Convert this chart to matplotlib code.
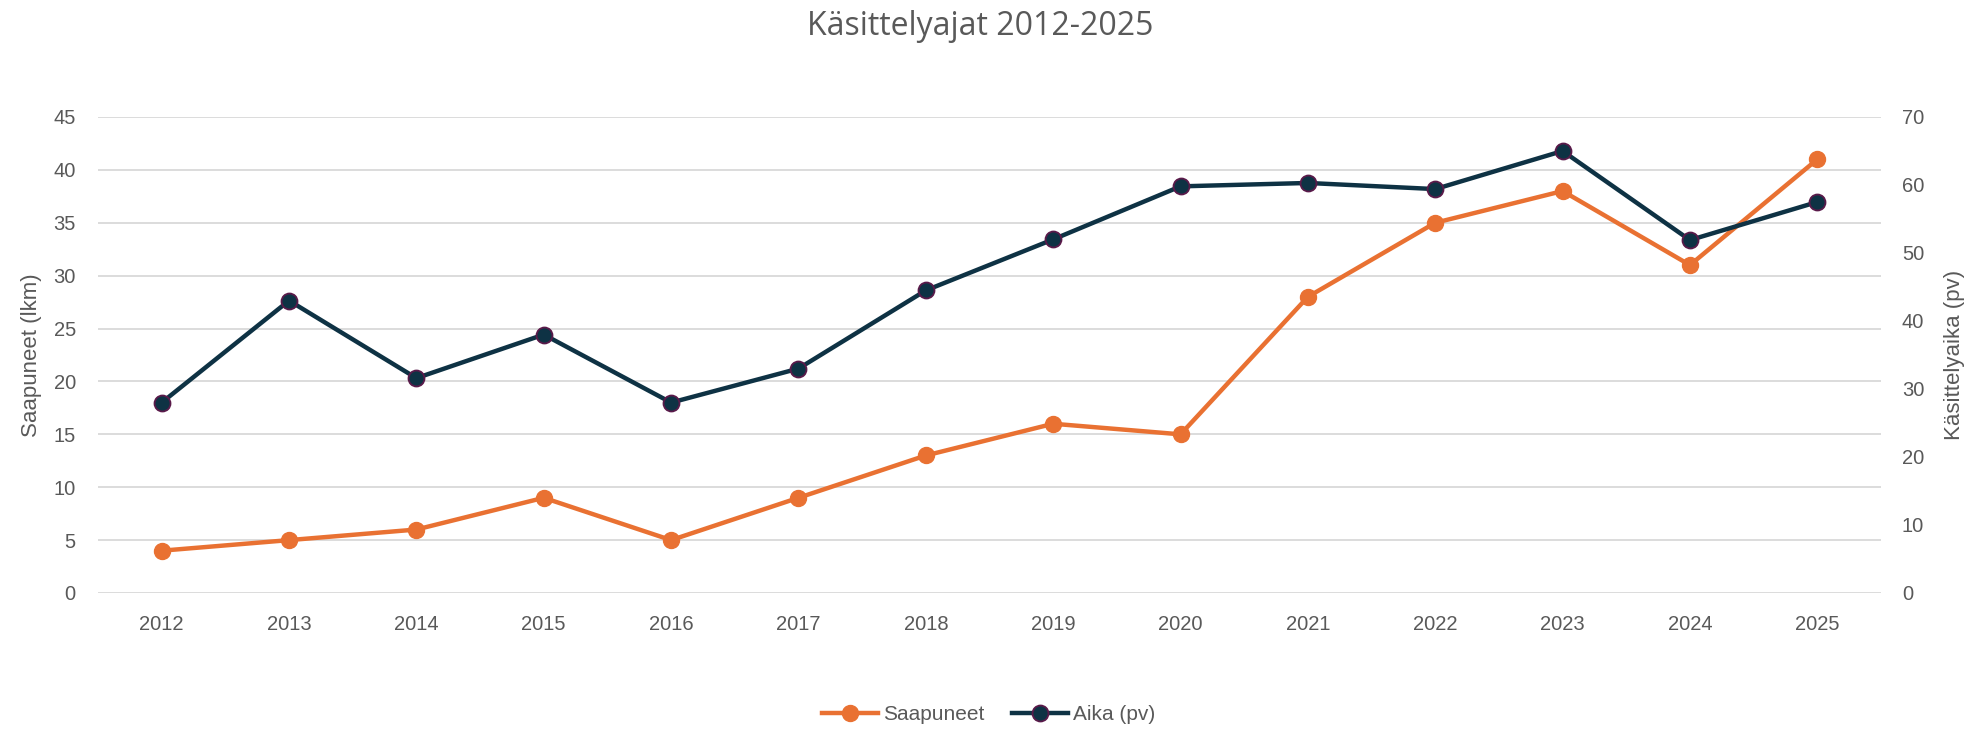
import numpy as np
import matplotlib.pyplot as plt

years = ['2012', '2013', '2014', '2015', '2016', '2017', '2018',
         '2019', '2020', '2021', '2022', '2023', '2024', '2025']
saapuneet = [4, 5, 6, 9, 5, 9, 13, 16, 15, 28, 35, 38, 31, 41]
aika_pv = [28, 43, 31.6, 38, 28, 33, 44.5, 52, 59.8, 60.3, 59.4, 65, 51.9, 57.5]

orange = '#E97132'
navy = '#0E3244'
edge = '#5A1A4A'
grey = '#595959'

plt.rcParams['font.family'] = ['Liberation Sans', 'DejaVu Sans']

fig = plt.figure(figsize=(19.77, 7.29), dpi=100)
ax = fig.add_axes([98/1977, 1 - 593/729, (1881-98)/1977, (593-117)/729])
ax2 = ax.twinx()

x = np.arange(len(years))
l1, = ax.plot(x, saapuneet, '-o', color=orange, lw=3.2, ms=11.5,
              mfc=orange, mec=orange, label='Saapuneet', zorder=3)
l2, = ax2.plot(x, aika_pv, '-o', color=navy, lw=3.2, ms=11.5,
               mfc=navy, mec=edge, mew=1.3, label='Aika (pv)', zorder=3)

ax.set_ylim(0, 45)
ax.set_yticks(range(0, 46, 5))
ax2.set_ylim(0, 70)
ax2.set_yticks(range(0, 71, 10))
ax.set_xlim(-0.5, len(years) - 0.5)
ax.set_xticks(x)
ax.set_xticklabels(years)

ax.yaxis.grid(True, color='#D9D9D9', lw=1.3)
ax.set_axisbelow(True)
for a in (ax, ax2):
    for s in a.spines.values():
        s.set_visible(False)
    a.tick_params(length=0, labelsize=14.5, colors=grey, pad=16)
ax.tick_params(axis='x', pad=16)
ax2.tick_params(axis='y', pad=15)

ax.set_ylabel('Saapuneet (lkm)', fontsize=16, color=grey, labelpad=8)
ax2.set_ylabel('Käsittelyaika (pv)', fontsize=16, color=grey, labelpad=14)

fig.text(0.496, 0.963, 'Käsittelyajat 2012-2025', ha='center', va='center',
         fontsize=23, color=grey, family=['Open Sans', 'DejaVu Sans'])

fig.legend(handles=[l1, l2], loc='center', bbox_to_anchor=(0.5, 0.02),
           ncol=2, frameon=False, fontsize=15, labelcolor=grey,
           handlelength=2.7, handletextpad=0.25, columnspacing=1.3)

fig.savefig('out.png', dpi=100)
